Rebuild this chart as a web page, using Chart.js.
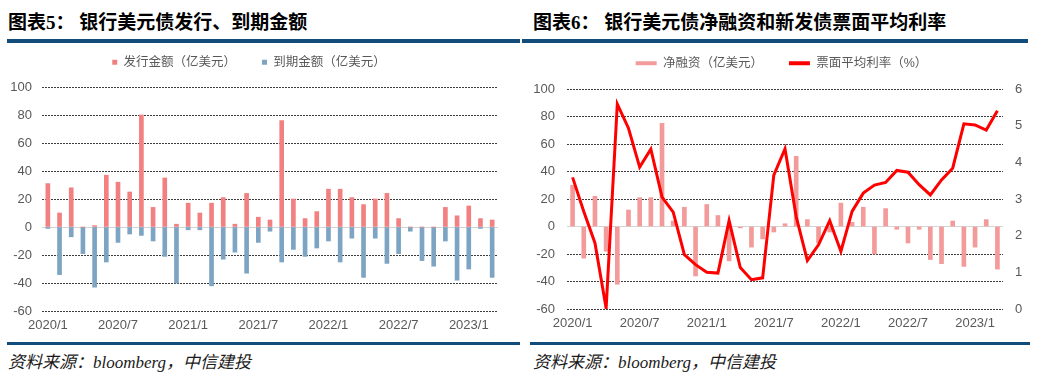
<!DOCTYPE html>
<html><head><meta charset="utf-8">
<script src="https://cdn.jsdelivr.net/npm/chart.js@4.4.0/dist/chart.umd.min.js"></script>
<style>
html,body{margin:0;padding:0;background:#fff;}
#wrap{position:relative;width:1043px;height:379px;overflow:hidden;background:#fff;}
.title{position:absolute;top:12px;font-weight:bold;font-size:19px;font-family:'Liberation Serif','Noto Sans CJK SC',serif;line-height:22px;color:#000;white-space:nowrap;}
.rule{position:absolute;background:#124C7A;}
.src{position:absolute;top:353px;font-style:italic;font-size:17px;font-family:'Liberation Serif','Noto Sans CJK SC',serif;line-height:20px;color:#1a1a1a;white-space:nowrap;}
canvas{position:absolute;}
</style></head><body>
<div id="wrap">
  <div class="title" style="left:8px">图表5： 银行美元债发行、到期金额</div>
  <div class="title" style="left:533px">图表6： 银行美元债净融资和新发债票面平均利率</div>
  <div class="rule" style="left:7px;width:513px;top:39px;height:4px"></div>
  <div class="rule" style="left:522px;width:506px;top:39px;height:4px"></div>
  <canvas id="c1" width="520" height="305" style="left:0;top:30px"></canvas>
  <canvas id="c2" width="523" height="302" style="left:520px;top:31px"></canvas>
  <div class="rule" style="left:7px;width:513px;top:342px;height:3px"></div>
  <div class="rule" style="left:530px;width:500px;top:342px;height:3px"></div>
  <div class="src" style="left:8px">资料来源：bloomberg，中信建投</div>
  <div class="src" style="left:533px">资料来源：bloomberg，中信建投</div>
</div>
<script>
// ---- data ----
const months = ['2020/1','2020/2','2020/3','2020/4','2020/5','2020/6','2020/7','2020/8','2020/9','2020/10','2020/11','2020/12',
  '2021/1','2021/2','2021/3','2021/4','2021/5','2021/6','2021/7','2021/8','2021/9','2021/10','2021/11','2021/12',
  '2022/1','2022/2','2022/3','2022/4','2022/5','2022/6','2022/7','2022/8','2022/9','2022/10','2022/11','2022/12',
  '2023/1','2023/2','2023/3'];
const issuance = [31,10,28,0,1,37,32,25,80,14,35,2,17,10,17,21,2,24,7,5,76,20,6,11,27,27,21,16,20,24,6,0,0,0,14,8,15,6,5];
const maturity = [-1,-34,-7,-19,-43,-25,-11,-5,-6,-10,-21,-40,-2,-2,-42,-23,-18,-33,-11,-3,-25,-16,-21,-15,-10,-25,-8,-36,-8,-26,-19,-3,-24,-28,-10,-38,-30,-1,-36];
const netFinancing = [30,-23,22,-18,-42,12,21,21,75,4,14,-36,16,8,-25,-1,-15,-9,-4,2,51,5,-12,-4,17,3,14,-20,13,-2,-12,-2,-24,-27,4,-29,-15,5,-31];
const couponRate = [3.59,2.66,1.80,0.02,5.59,4.93,3.87,4.36,3.05,2.64,1.48,1.21,1.00,0.98,2.41,1.13,0.80,0.85,3.65,4.37,2.52,1.32,1.75,2.41,1.57,2.66,3.16,3.38,3.45,3.78,3.73,3.39,3.11,3.52,3.84,5.05,5.02,4.88,5.41];
const tickEvery = 6;
const leftAxisRange = [-60, 100, 20];
const rightAxisRange = [0, 6, 1];
const seriesNames = ['发行金额（亿美元）','到期金额（亿美元）','净融资（亿美元）','票面平均利率（%）'];

// ---- style ----
Chart.defaults.font.family = "'Liberation Sans','Noto Sans CJK SC',sans-serif";
Chart.defaults.color = '#595959';
Chart.defaults.animation = false;

function legendHeight(h){
  return { id:'legendH', beforeInit(chart){ const fit = chart.legend.fit; chart.legend.fit = function(){ fit.call(this); this.height = h; }; } };
}
const gridColor = c => (c.tick && c.tick.value === 0) ? '#d4d4d4' : '#3c3c3c';
const gridDash = c => (c.tick && c.tick.value === 0) ? [] : [2,1];
const noBorderLabels = chart => Chart.defaults.plugins.legend.labels.generateLabels(chart).map(l => Object.assign(l, {lineWidth:0, strokeStyle:'rgba(0,0,0,0)'}));
const xTicks = {autoSkip:false, maxRotation:0, minRotation:0, padding:7, font:{size:13}, color:'#595959',
  callback:(v,i)=> i % tickEvery === 0 ? months[i] : ''};
const legendFont = {size:12.5};

new Chart(document.getElementById('c1'), {
  type:'bar',
  data:{ labels:months, datasets:[
    {label:seriesNames[0], data:issuance, backgroundColor:'#F28080', barThickness:4},
    {label:seriesNames[1], data:maturity, backgroundColor:'#7DA4C2', barThickness:4}
  ]},
  options:{ responsive:false, layout:{padding:{right:22}},
    plugins:{ legend:{ position:'top', labels:{ boxWidth:5, boxHeight:5, padding:26, font:legendFont, color:'#595959', generateLabels:noBorderLabels } }, tooltip:{enabled:false} },
    scales:{
      x:{ stacked:true, grid:{display:false, drawTicks:false}, border:{display:false}, ticks:xTicks, afterFit:s=>{s.height=24;} },
      y:{ stacked:true, min:leftAxisRange[0], max:leftAxisRange[1], ticks:{stepSize:leftAxisRange[2], padding:10, font:{size:13}, color:'#595959'},
          grid:{color:gridColor, drawTicks:false, lineWidth:1}, border:{display:false, dash:gridDash}, afterFit:s=>{s.width=42;} }
    }
  },
  plugins:[legendHeight(57)]
});

new Chart(document.getElementById('c2'), {
  type:'bar',
  data:{ labels:months, datasets:[
    {label:seriesNames[2], data:netFinancing, backgroundColor:'#F39A9A', barThickness:4, yAxisID:'y', order:1},
    {type:'line', label:seriesNames[3], data:couponRate, borderColor:'#FF0000', backgroundColor:'#FF0000', borderWidth:3, pointRadius:0, tension:0, yAxisID:'y1', order:0}
  ]},
  options:{ responsive:false, layout:{padding:{right:0}},
    plugins:{ legend:{ position:'top', labels:{ boxWidth:21, boxHeight:4, padding:26, font:legendFont, color:'#595959', generateLabels:noBorderLabels, sort:(a,b)=>a.datasetIndex-b.datasetIndex } }, tooltip:{enabled:false} },
    scales:{
      x:{ grid:{display:false, drawTicks:false}, border:{display:false}, ticks:xTicks, afterFit:s=>{s.height=24;} },
      y:{ position:'left', min:leftAxisRange[0], max:leftAxisRange[1], ticks:{stepSize:leftAxisRange[2], padding:12, font:{size:13}, color:'#595959'},
          grid:{color:gridColor, drawTicks:false, lineWidth:1}, border:{display:false, dash:gridDash}, afterFit:s=>{s.width=47;} },
      y1:{ position:'right', min:rightAxisRange[0], max:rightAxisRange[1], ticks:{stepSize:rightAxisRange[2], padding:12, font:{size:13}, color:'#595959'},
          grid:{display:false, drawTicks:false}, border:{display:false}, afterFit:s=>{s.width=40;} }
    }
  },
  plugins:[legendHeight(58)]
});
</script>
</body></html>
